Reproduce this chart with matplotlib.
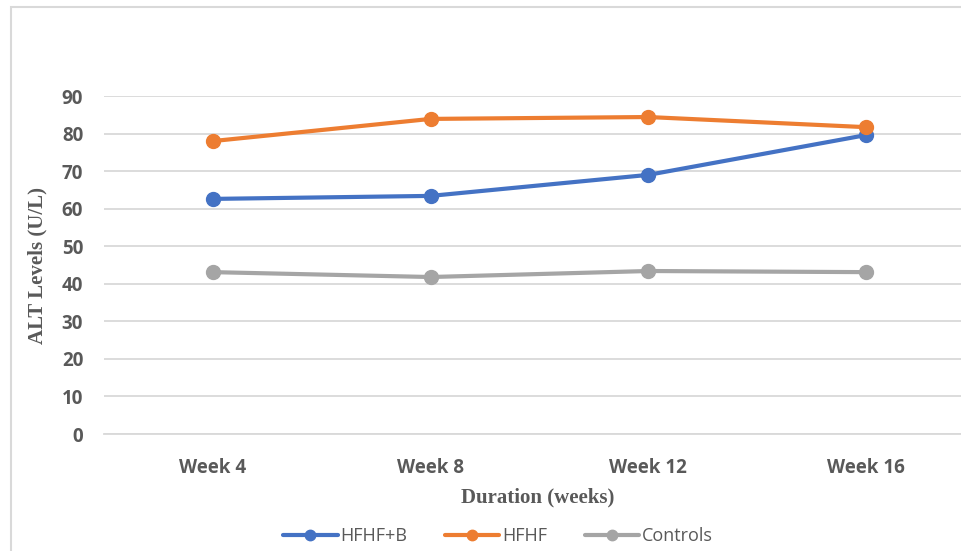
import matplotlib.pyplot as plt
from matplotlib.patches import Rectangle

# ALT levels (U/L) per group over the study
weeks = ["Week 4", "Week 8", "Week 12", "Week 16"]
hfhf_b = [62.6, 63.4, 69.0, 79.6]
hfhf = [78.0, 83.9, 84.4, 81.7]
controls = [43.1, 41.8, 43.4, 43.1]

series = [("HFHF+B", hfhf_b, "#4472C4"),
          ("HFHF", hfhf, "#ED7D31"),
          ("Controls", controls, "#A5A5A5")]

text_gray = "#595959"

fig = plt.figure(figsize=(9.61, 5.51), dpi=100)
ax = fig.add_axes([104 / 961, 1 - 434 / 551, 871 / 961, 338 / 551])

x = list(range(len(weeks)))
for name, vals, col in series:
    ax.plot(x, vals, color=col, lw=3, marker="o", ms=10, label=name,
            solid_capstyle="round")

ax.set_xlim(-0.5, 3.5)
ax.set_ylim(0, 90)
ax.set_yticks(range(0, 91, 10))
ax.set_xticks(x)
ax.set_xticklabels(weeks)
ax.grid(axis="y", color="#d9d9d9", lw=1.3)
ax.set_axisbelow(True)
for s in ax.spines.values():
    s.set_visible(False)
ax.spines["bottom"].set_visible(True)
ax.spines["bottom"].set_color("#d9d9d9")
ax.spines["bottom"].set_linewidth(1.3)
ax.tick_params(length=0, labelsize=13.5, labelcolor=text_gray)
ax.tick_params(axis="x", pad=17)
ax.tick_params(axis="y", pad=15)
for lbl in ax.get_xticklabels() + ax.get_yticklabels():
    lbl.set_fontfamily("Open Sans")
    lbl.set_fontweight("bold")

fig.text(37 / 961, 1 - 265 / 551, "ALT Levels (U/L)", rotation=90,
         ha="center", va="center", fontsize=15, fontweight="bold",
         family="Liberation Serif", color=text_gray)
fig.text(538 / 961, 1 - 497 / 551, "Duration (weeks)", ha="center",
         va="center", fontsize=15, fontweight="bold",
         family="Liberation Serif", color=text_gray)

leg = fig.legend(loc="center", bbox_to_anchor=(498 / 961, 1 - 536 / 551),
                 ncol=3, frameon=False, handlelength=3.0, handletextpad=0.15,
                 columnspacing=2.1, prop={"family": "Open Sans", "size": 13},
                 markerscale=0.75)
for t in leg.get_texts():
    t.set_color(text_gray)

# chart frame
fig.patches.append(Rectangle((11 / 961, -0.05), 1.0, 1 - 7 / 551 + 0.05,
                             transform=fig.transFigure, fill=False,
                             edgecolor="#d9d9d9", lw=1.5))

fig.savefig("out.png", dpi=100)
